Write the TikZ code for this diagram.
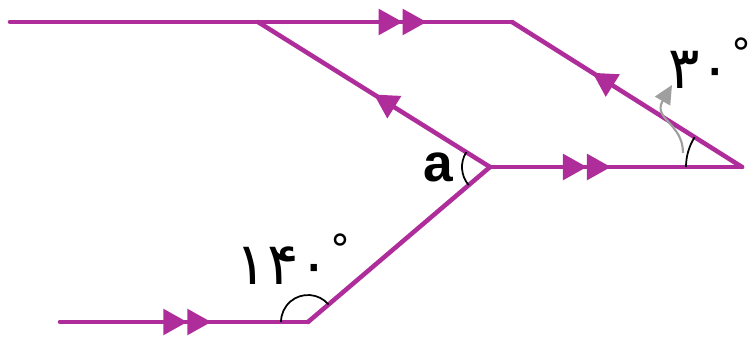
\documentclass[tikz,border=0pt]{standalone}
\usepackage{fontspec}
\setmainfont{Liberation Sans}
\newfontfamily\fafont{DejaVu Sans}
\usetikzlibrary{arrows.meta,decorations.markings}
\definecolor{ray}{RGB}{175,45,155}
\tikzset{
  beam/.style={draw=ray,line width=3.4pt,line cap=round,line join=round},
  onetip/.style={postaction={decorate},decoration={markings,
    mark=at position #1 with {\arrow[ray]{Triangle[length=18pt,width=19pt]}}}},
  twotip/.style={postaction={decorate},decoration={markings,
    mark=at position #1 with {\arrow[ray]{Triangle[length=18pt,width=19pt]Triangle[length=18pt,width=19pt]}}}},
  angarc/.style={draw=black,line width=1.3pt},
  deg/.style={font=\fafont\fontsize{44}{44}\selectfont}
}
\newcommand{\updeg}{\raisebox{0.35em}{\fontsize{30}{30}\selectfont°}}
\begin{document}
\begin{tikzpicture}[x=0.75pt,y=0.75pt]
\useasboundingbox (0,0) rectangle (754,351);
% Rays
\coordinate (A) at (10,329);
\coordinate (B) at (258,329);
\coordinate (C) at (512,329);
\coordinate (D) at (490,184);
\coordinate (E) at (742,184);
\coordinate (F) at (60,29);
\coordinate (G) at (308,29);
\draw[beam,twotip=0.83] (A) -- (C);
\draw[beam,onetip=0.65] (E) -- (C);
\draw[beam,onetip=0.50] (D) -- (B);
\draw[beam,twotip=0.48] (D) -- (E);
\draw[beam,twotip=0.61] (F) -- (G);
\draw[beam] (G) -- (D);
% Angles
\draw[angarc] (G) ++(40.4:27) arc[start angle=40.4,end angle=180,radius=27];
\draw[angarc] (D) ++(147.8:28) arc[start angle=147.8,end angle=220.4,radius=28];
\draw[angarc] (E) ++(180:56) arc[start angle=180,end angle=147.8,radius=56];
\coordinate (H) at (683,198);
\coordinate (I) at (672,266);
\draw[gray!75,line width=1.6pt,-{Triangle[length=14pt,width=13pt]}] (H) .. controls (683,228) and (652,232) .. (I);
\node[deg] (P) at (293,92) {۱۴۰\updeg};
\node[deg] (Q) at (710,288) {۳۰\updeg};
\node[font=\bfseries\fontsize{40}{40}\selectfont] (R) at (438,184) {a};
\end{tikzpicture}
\end{document}
